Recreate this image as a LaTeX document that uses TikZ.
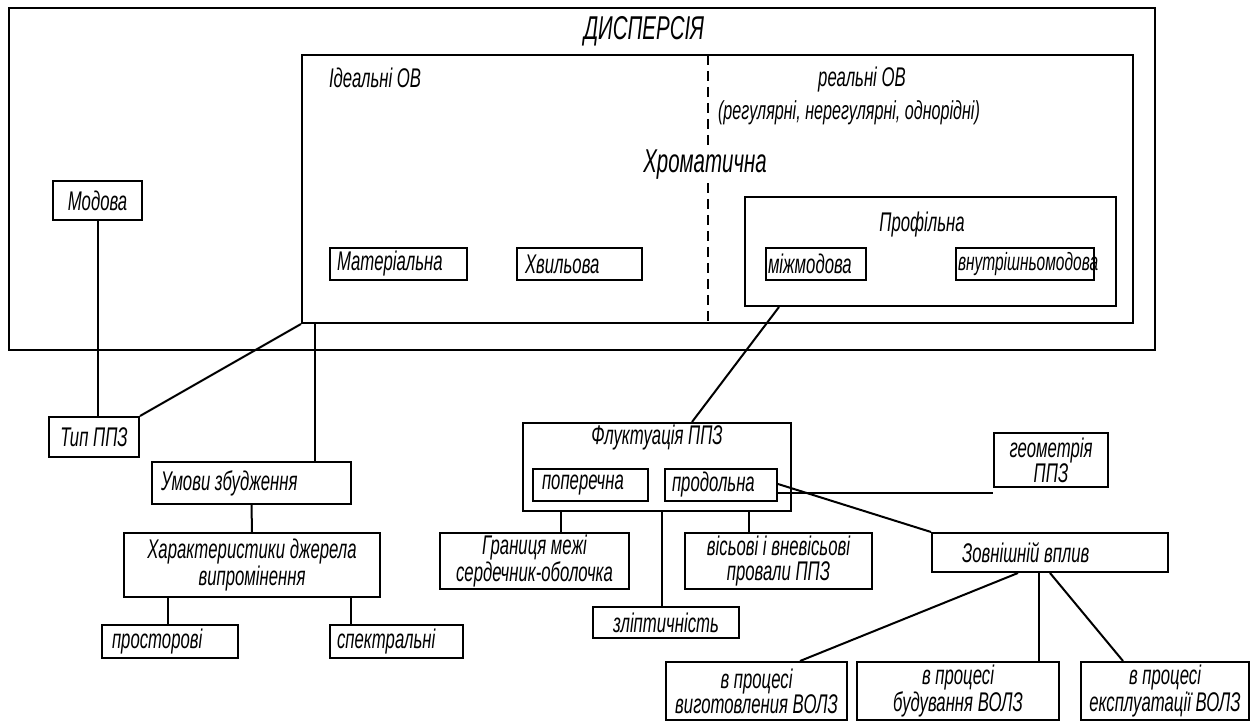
\documentclass[tikz,border=0pt]{standalone}
\usepackage{fontspec}
\setmainfont{Liberation Sans}[FakeStretch=0.62]
\begin{document}
\begin{tikzpicture}[x=1pt,y=-1pt,
  line width=2pt,
  every node/.style={inner sep=0pt, font=\fontsize{27}{25}\selectfont\itshape},
  box/.style={draw, rectangle, line width=2pt, align=center},
  lbox/.style={draw, rectangle, line width=2pt, align=flush left},
  link/.style={line width=2pt}]
\useasboundingbox (0,0) rectangle (1254,722);

% dispersion frame and chromatic block
\node[box, minimum width=1146, minimum height=342] (disp) at (582,179) {};
\node[font=\fontsize{33}{34}\selectfont\itshape] (title) at (644,31) {ДИСПЕРСІЯ};
\node[box, minimum width=831, minimum height=268] (chrom) at (717.5,189) {};
\coordinate (dtop) at (708,55);
\coordinate (dbot) at (708,323);
\draw[dash pattern=on 10pt off 6pt, line width=1.4pt] (dtop) -- (dbot);
\node[anchor=west] (ideal) at (328,78) {Ідеальні ОВ};
\node (real) at (862,80) {реальні ОВ};
\node[font=\fontsize{26}{26}\selectfont\itshape] (realkinds) at (849,113) {(регулярні, нерегулярні, однорідні)};
\node[fill=white, inner ysep=3pt, font=\fontsize{33}{34}\selectfont\itshape] (chromt) at (705,165) {Хроматична};

\node[lbox, minimum width=137, minimum height=32, text width=123, inner xsep=7] (mater) at (398.5,264) {Матеріальна};
\node[lbox, minimum width=125, minimum height=32, text width=109, inner xsep=8] (hvyl) at (579.5,264) {Хвильова};

% profile dispersion
\node[box, minimum width=371, minimum height=109] (profil) at (930.5,251.5) {};
\node (profilt) at (922,225) {Профільна};
\node[lbox, minimum width=100, minimum height=32, text width=96, inner xsep=2] (mizh) at (816,264) {міжмодова};
\node[lbox, minimum width=138, minimum height=32, text width=134, inner xsep=2, font=\fontsize{25}{25}\selectfont\itshape] (vnutr) at (1025,264) {внутрішньомодова};

% left branch
\node[box, minimum width=89, minimum height=39] (modova) at (97.5,200.5) {Модова};
\node[box, minimum width=90, minimum height=40] (typ) at (94,437) {Тип ППЗ};
\node[lbox, minimum width=199, minimum height=42, text width=181, inner xsep=9] (umovy) at (251.5,483) {Умови збудження};
\node[box, minimum width=256, minimum height=64] (kharakt) at (252,565) {Характеристики джерела\\випромінення};
\node[lbox, minimum width=136, minimum height=33, text width=116, inner xsep=10] (prost) at (170,641.5) {просторові};
\node[lbox, minimum width=133, minimum height=33, text width=119, inner xsep=7] (spektr) at (396.5,641.5) {спектральні};

% fluctuation branch
\node[box, minimum width=268, minimum height=88] (fluk) at (657,467) {};
\node (flukt) at (657,438) {Флуктуація ППЗ};
\node[lbox, minimum width=115, minimum height=32, text width=97, inner xsep=9] (poper) at (590.5,485) {поперечна};
\node[lbox, minimum width=112, minimum height=32, text width=98, inner xsep=7] (prod) at (721,485) {продольна};
\node[box, minimum width=114, minimum height=54] (geom) at (1051,460) {геометрія\\ППЗ};
\node[lbox, minimum width=206, minimum height=39, text width=176, inner xsep=30] (zovn) at (1050,552.5) {Зовнішній вплив};
\node[box, minimum width=189, minimum height=56] (granyc) at (534.5,561) {Границя межі\\сердечник-оболочка};
\node[box, minimum width=187, minimum height=56] (visovi) at (778.5,561) {вісьові і вневісьові\\провали ППЗ};
\node[box, minimum width=146, minimum height=31] (elipt) at (666,622.5) {зліптичність};
\node[box, minimum width=181, minimum height=58] (vyg) at (756.5,691) {в процесі\\виготовления ВОЛЗ};
\node[box, minimum width=202, minimum height=58] (bud) at (958,691) {в процесі\\будування ВОЛЗ};
\node[box, minimum width=168, minimum height=58] (ekspl) at (1165,691) {в процесі\\експлуатації ВОЛЗ};

% connectors
\draw[link] (modova.south) -- (modova.south |- typ.north);
\draw[link] (typ.north east) -- (chrom.south west);
\draw[link] ([xshift=14]chrom.south west) -- ([xshift=14]chrom.south west |- umovy.north);
\draw[link] (umovy.south) -- (kharakt.north);
\draw[link] ([xshift=-84]kharakt.south) -- ([xshift=-84]kharakt.south |- prost.north);
\draw[link] ([xshift=99]kharakt.south) -- ([xshift=99]kharakt.south |- spektr.north);
\draw[link] ([xshift=-151.5]profil.south) -- ([xshift=35]fluk.north);
\draw[link] ([yshift=-8]prod.east) -- ([yshift=-8]prod.east -| geom.west);
\draw[link] ([yshift=1]prod.east) -- (zovn.north west);
\draw[link] ([xshift=-96]fluk.south) -- ([xshift=-96]fluk.south |- granyc.north);
\draw[link] ([xshift=5]fluk.south) -- ([xshift=5]fluk.south |- elipt.north);
\draw[link] ([xshift=92]fluk.south) -- ([xshift=92]fluk.south |- visovi.north);
\draw[link] ([xshift=-32]zovn.south) -- ([xshift=43.5]vyg.north);
\draw[link] ([xshift=-11]zovn.south) -- ([xshift=-11]zovn.south |- bud.north);
\draw[link] (zovn.south) -- ([xshift=-42]ekspl.north);
\end{tikzpicture}
\end{document}
